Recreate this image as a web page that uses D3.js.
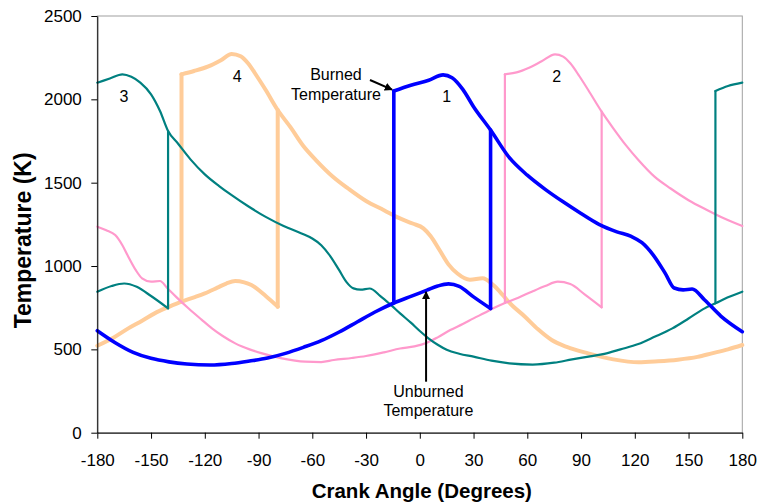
<!DOCTYPE html>
<html>
<head>
<meta charset="utf-8">
<script src="https://cdn.jsdelivr.net/npm/d3@7"></script>
<style>
  body { margin: 0; background: #fff; }
  svg { display: block; font-family: 'Liberation Sans', Arial, sans-serif; }
</style>
</head>
<body>
<div class="chart"></div>
<script>
const xTicks = [-180, -150, -120, -90, -60, -30, 0, 30, 60, 90, 120, 150, 180]
const yTicks = [0, 500, 1000, 1500, 2000, 2500]

// cylinder 1 (blue)
const cyl1Unburned = [
  [-180, 612], [-170, 540], [-160, 482], [-150, 446], [-140, 425], [-130, 412], [-117, 406],
  [-105, 415], [-95, 430], [-85, 448], [-75, 476], [-65, 512], [-55, 552], [-45, 604],
  [-35, 664], [-25, 724], [-14.5, 778], [-5, 818], [4, 855], [10, 880], [16, 893], [22, 878],
  [30, 815], [39.5, 745], [39.5, 1816]
]
const cyl1Burned = [
  [-14.5, 778], [-14.5, 2050], [-5, 2085], [5, 2115], [13, 2147], [18, 2130], [24, 2060],
  [30, 1956], [39.5, 1816], [50, 1650], [60, 1545], [70, 1460], [80, 1385], [90, 1315],
  [100, 1250], [110, 1205], [118, 1178], [124, 1140], [130, 1070], [137, 956], [142, 868],
  [147, 857], [152, 862], [159, 796], [168, 700], [180, 606]
]

// cylinder 2 (pink)
const cyl2Unburned = [
  [-180, 1236], [-175, 1215], [-170, 1186], [-166, 1125], [-162.7, 1056], [-158.5, 975],
  [-155, 926], [-150, 906], [-145, 910], [-141, 868], [-136, 815], [-129, 745], [-122, 680],
  [-116, 626], [-110, 580], [-103, 536], [-95, 500], [-88, 476], [-77, 446], [-64, 426],
  [-55, 424], [-48, 436], [-38, 448], [-30, 460], [-20, 482], [-11, 505], [-3, 518],
  [4, 540], [10, 572], [17, 616], [24, 652], [30, 686], [36, 718], [41, 746], [47.5, 778],
  [55, 810], [62.5, 846], [70, 880], [77, 906], [84, 892], [92, 830], [101.5, 752], [101.5, 1926]
]
const cyl2Burned = [
  [47.5, 778], [47.5, 2150], [54, 2162], [61, 2190], [68, 2228], [75.5, 2270], [80, 2256],
  [84, 2216], [89, 2140], [94, 2056], [101.5, 1926], [108, 1826], [115, 1725], [122, 1636],
  [131, 1536], [140, 1465], [150, 1395], [160, 1338], [170, 1285], [180, 1240]
]

// cylinder 3 (teal), wraps round the cycle
const cyl3BurnedStart = [[165, 776], [165, 2050], [172, 2080], [180, 2100]]
const cyl3Main = [
  [-180, 2100], [-173, 2125], [-166, 2150], [-161, 2135], [-156, 2100], [-150, 2030],
  [-145, 1930], [-140.5, 1810], [-135, 1735], [-128, 1640], [-120, 1550], [-112, 1480],
  [-105, 1425], [-96, 1360], [-86, 1295], [-76, 1240], [-66, 1195], [-60, 1165], [-55, 1125],
  [-50, 1060], [-45, 975], [-41, 905], [-37, 866], [-33, 858], [-28, 865], [-22, 820],
  [-16, 765], [-11, 716], [-5, 660], [0, 610], [5, 565], [10, 528], [15, 498], [22, 474],
  [30, 456], [40, 432], [50, 416], [63, 409], [75, 420], [85, 440], [95, 458], [103, 473],
  [112, 500], [122, 532], [131, 575], [141, 626], [150, 685], [159, 746], [165, 776],
  [172, 812], [180, 846]
]
const cyl3UnburnedEnd = [
  [-180, 846], [-172, 880], [-165, 895], [-158, 875], [-150, 820], [-140.5, 746], [-140.5, 1810]
]

// cylinder 4 (orange)
const cyl4Unburned = [
  [-180, 522], [-171, 570], [-162.7, 626], [-155, 672], [-148, 716], [-140, 755], [-133, 786],
  [-126, 812], [-120, 836], [-113, 870], [-108, 895], [-103, 910], [-98, 902], [-94, 886],
  [-86, 820], [-79.3, 756], [-79.3, 1936]
]
const cyl4Burned = [
  [-133, 786], [-133, 2150], [-126, 2170], [-118, 2198], [-111, 2235], [-105, 2272],
  [-100, 2258], [-96, 2218], [-91, 2140], [-86, 2056], [-79.3, 1936], [-72, 1830],
  [-65, 1720], [-58, 1636], [-48.5, 1536], [-40, 1465], [-30, 1390], [-20, 1335],
  [-12, 1290], [-4, 1255], [2, 1226], [6, 1180], [11, 1096], [16, 1010], [21, 955],
  [28, 918], [35, 926], [41, 886], [46, 830], [50, 780], [58.7, 696], [66, 620],
  [73.6, 556], [82, 515], [94, 476], [108, 440], [122, 422], [133, 428], [144, 438],
  [155, 455], [163, 476], [172, 500], [180, 526]
]

const cylinderLabels = ['1', '2', '3', '4']
const cylinderLabelAt = [[15, 2016], [76.4, 2140], [-165.1, 2016], [-101.9, 2140]]

const burnedNote = ['Burned', 'Temperature']
const unburnedNote = ['Unburned', 'Temperature']

function runs (pts) {
  // split where the angle repeats, so vertical jumps get drawn as straight pieces
  const out = []
  let cur = [pts[0]]
  for (let i = 1; i < pts.length; i++) {
    if (pts[i][0] === pts[i - 1][0]) {
      if (cur.length > 1) out.push(cur)
      out.push([pts[i - 1], pts[i]])
      cur = [pts[i]]
    } else {
      cur.push(pts[i])
    }
  }
  if (cur.length > 1) out.push(cur)
  return out
}

function drawChart (container) {
  const margin = { top: 16, right: 24.7, bottom: 71.3, left: 97.3 }
  const fullWidth = 767
  const fullHeight = 504
  const width = fullWidth - margin.left - margin.right
  const height = fullHeight - margin.top - margin.bottom

  const xScale = d3.scaleLinear().domain([-180, 180]).range([0, width])
  const yScale = d3.scaleLinear().domain([0, 2500]).range([height, 0])

  const svg = d3.select(container)
    .append('svg')
      .attr('width', fullWidth)
      .attr('height', fullHeight)
    .append('g')
      .attr('transform', `translate(${margin.left}, ${margin.top})`)

  svg.append('defs').append('marker')
    .attr('id', 'arrow')
    .attr('viewBox', '0 0 10 10')
    .attr('refX', 9)
    .attr('refY', 5)
    .attr('markerWidth', 4)
    .attr('markerHeight', 4)
    .attr('orient', 'auto')
    .append('path')
      .attr('d', 'M0,0 L10,5 L0,10 z')
      .attr('fill', '#000')

  // plot frame (top and right edges)
  svg.append('rect')
    .attr('width', width)
    .attr('height', height)
    .attr('fill', 'none')
    .attr('stroke', '#a0a0a0')
    .attr('stroke-width', 1)

  const series = [
    { pts: cyl4Unburned, color: '#ffcc99', w: 4 },
    { pts: cyl4Burned, color: '#ffcc99', w: 4 },
    { pts: cyl2Unburned, color: '#ff99cc', w: 2.2 },
    { pts: cyl2Burned, color: '#ff99cc', w: 2.2 },
    { pts: cyl3Main, color: '#008080', w: 2.2 },
    { pts: cyl3BurnedStart, color: '#008080', w: 2.2 },
    { pts: cyl3UnburnedEnd, color: '#008080', w: 2.2 },
    { pts: cyl1Unburned, color: '#0000ff', w: 3.6 },
    { pts: cyl1Burned, color: '#0000ff', w: 3.6 }
  ]

  const line = d3.line()
    .x(d => xScale(d[0]))
    .y(d => yScale(d[1]))
    .curve(d3.curveMonotoneX)

  series.forEach(s => {
    svg.append('g')
      .selectAll('path')
      .data(runs(s.pts))
      .enter()
        .append('path')
        .attr('d', line)
        .attr('fill', 'none')
        .attr('stroke', s.color)
        .attr('stroke-width', s.w)
        .attr('stroke-linejoin', 'round')
        .attr('stroke-linecap', 'round')
  })

  // axes (plain hyphen minus, no thousands separator)
  const plain = d => String(d)
  const yAxis = d3.axisLeft(yScale).tickValues(yTicks).tickFormat(plain)
    .tickSize(6).tickSizeOuter(0).tickPadding(9.5)
  const xAxis = d3.axisBottom(xScale).tickValues(xTicks).tickFormat(plain)
    .tickSize(6).tickSizeOuter(0).tickPadding(15)

  const gy = svg.append('g').call(yAxis)
  const gx = svg.append('g').attr('transform', `translate(0, ${height})`).call(xAxis)
  ;[gx, gy].forEach(g => {
    g.selectAll('text')
      .attr('fill', '#000')
      .style('font-size', '17px')
      .style('font-family', "'Liberation Sans', Arial, sans-serif")
    g.selectAll('line, path').attr('stroke', '#000')
  })

  // axis titles
  svg.append('text')
    .attr('x', width / 2 + 2)
    .attr('y', height + 65.5)
    .attr('text-anchor', 'middle')
    .style('font-weight', 'bold')
    .style('font-size', '20.5px')
    .text('Crank Angle (Degrees)')

  svg.append('text')
    .attr('transform', `translate(${23 - margin.left + 8}, ${height / 2 + 16}) rotate(-90)`)
    .attr('text-anchor', 'middle')
    .style('font-weight', 'bold')
    .style('font-size', '23px')
    .text('Temperature (K)')

  // cylinder numbers
  svg.selectAll('.cyl-label')
    .data(cylinderLabels)
    .enter()
      .append('text')
      .attr('class', 'cyl-label')
      .attr('x', (d, i) => xScale(cylinderLabelAt[i][0]))
      .attr('y', (d, i) => yScale(cylinderLabelAt[i][1]))
      .attr('dy', '0.35em')
      .attr('text-anchor', 'middle')
      .style('font-size', '16px')
      .text(d => d)

  // notes with arrows
  function note (lines, at, tail, tip) {
    svg.append('text')
      .attr('text-anchor', 'middle')
      .style('font-size', '16px')
      .selectAll('tspan')
      .data(lines)
      .enter()
        .append('tspan')
        .attr('x', xScale(at[0]))
        .attr('y', (d, i) => yScale(at[1]) + i * 19.5)
        .text(d => d)

    svg.append('line')
      .attr('x1', xScale(tail[0]))
      .attr('y1', yScale(tail[1]))
      .attr('x2', xScale(tip[0]))
      .attr('y2', yScale(tip[1]))
      .attr('stroke', '#000')
      .attr('stroke-width', 2)
      .attr('marker-end', 'url(#arrow)')
  }

  note(burnedNote, [-46.8, 2116], [-27.8, 2116], [-15.5, 2058])
  note(unburnedNote, [4.8, 216], [3.5, 306], [3.5, 845])

  return svg
}

drawChart('.chart')
</script>
</body>
</html>
